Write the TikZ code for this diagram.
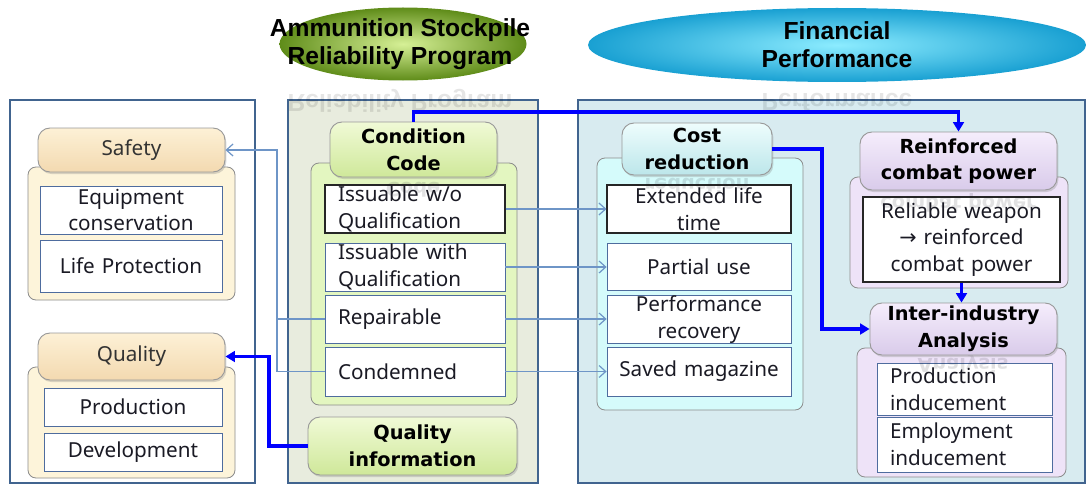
\documentclass[tikz,border=0pt]{standalone}
\usepackage{fontspec}
\setmainfont{Noto Sans}
\newfontfamily\titlefont{Liberation Sans}
\newfontfamily\headfont{DejaVu Sans}
\usetikzlibrary{arrows.meta,shadows,shapes.geometric}

\definecolor{frameblue}{HTML}{41648F}
\definecolor{thinblue}{HTML}{6E95C7}
\definecolor{boxedge}{HTML}{4E6C9E}
\definecolor{arrowblue}{HTML}{0000FF}
\definecolor{midbg}{HTML}{E8ECDE}
\definecolor{rightbg}{HTML}{D8EBF0}
\definecolor{creamtop}{HTML}{FDF1D6}
\definecolor{creambot}{HTML}{F3D9B0}
\definecolor{creambody}{HTML}{FDF4DA}
\definecolor{greentop}{HTML}{F0FAD6}
\definecolor{greenbot}{HTML}{CFE89A}
\definecolor{greenbody}{HTML}{E3F6C0}
\definecolor{cyantop}{HTML}{EEFDFD}
\definecolor{cyanbot}{HTML}{BCE6EA}
\definecolor{cyanbody}{HTML}{D5FBFB}
\definecolor{lavtop}{HTML}{F5EDFC}
\definecolor{lavbot}{HTML}{D9CBEA}
\definecolor{lavbody}{HTML}{EEE3F8}
\definecolor{txt}{HTML}{1A1A24}

\newcommand{\pbox}[8]{%
  \pgfmathsetmacro{\pbw}{(#6-#4-2*#2)*0.75}%
  \pgfmathsetmacro{\pbh}{(#7-#5)*0.75}%
  \pgfmathsetmacro{\pbp}{#2*0.75}%
  \node[#3, text width=\pbw pt, inner xsep=\pbp pt, inner ysep=0pt,
        minimum height=\pbh pt] (#1) at ({(#4+#6)/2},{(#5+#7)/2}) {#8};}

\begin{document}
\begin{tikzpicture}[x=0.75pt,y=-0.75pt,
  every node/.style={font=\fontsize{15.5}{20}\selectfont, text=txt},
  frame/.style={draw=frameblue, line width=2.2pt},
  body/.style={draw=black!45, line width=0.6pt, rounded corners=6pt},
  head/.style={draw=black!40, line width=0.7pt, rounded corners=9pt, align=center,
     drop shadow={shadow xshift=1pt, shadow yshift=-1.5pt, opacity=0.3}},
  boldhead/.style={head, font=\headfont\bfseries\fontsize{14.5}{20}\selectfont, text=black},
  inbox/.style={draw=boxedge, line width=0.6pt, fill=white, align=center},
  inboxl/.style={inbox, align=left},
  inboxk/.style={draw=black!85, line width=0.8pt, fill=white},
  thinarrow/.style={draw=thinblue, line width=0.9pt, -{Straight Barb[length=5pt,width=9pt,line width=0.9pt]}},
  thinline/.style={draw=thinblue, line width=0.9pt},
  thickarrow/.style={draw=arrowblue, line width=2.4pt, -{Triangle[length=7pt,width=8pt]}},
  title/.style={font=\titlefont\bfseries\fontsize{18.5}{21}\selectfont, text=black, align=center},
  refl/.style={yscale=-1, opacity=0.13, align=center, font=\headfont\bfseries\fontsize{14.5}{20}\selectfont}
]
\useasboundingbox (0,0) rectangle (1087,485);

% ---------- title ellipses ----------
\node[ellipse, minimum width=185.25pt, minimum height=54.75pt, inner sep=0pt,
      shading=radial, inner color={rgb,255:red,214;green,240;blue,150},
      outer color={rgb,255:red,95;green,140;blue,25}] (asrpell) at (403,44) {};
\node[ellipse, minimum width=373.5pt, minimum height=55.5pt, inner sep=0pt,
      shading=radial, inner color={rgb,255:red,140;green,236;blue,255},
      outer color={rgb,255:red,25;green,160;blue,210}] (finell) at (837,45) {};
\node[title] (asrp) at (400,44) {Ammunition Stockpile\\Reliability Program};
\node[title] (fin) at (837,45) {Financial\\Performance};

% ---------- outer frames ----------
\draw[frame, fill=white] (10,100) rectangle (255,483);
\draw[frame, fill=midbg] (288,100) rectangle (538,483);
\draw[frame, fill=rightbg] (578,100) rectangle (1085,483);

% faint reflections of the titles
\node[refl, title, opacity=0.1] (asrprefl) at (400,101) {Reliability Program};
\node[refl, title, opacity=0.1] (finrefl) at (837,102) {Performance};

% ---------- left column ----------
\pbox{safetybody}{5}{body, fill=creambody}{28}{167}{235}{300}{}
\pbox{equip}{5}{inbox}{40}{186}{222}{234}{Equipment\\conservation}
\pbox{life}{5}{inbox}{40}{240}{222}{292}{Life Protection}
\pbox{safety}{5}{head, top color=creamtop, bottom color=creambot, text=black!80}{38}{128}{225}{172}{Safety}

\pbox{qualitybody}{5}{body, fill=creambody}{28}{367}{235}{478}{}
\pbox{prod}{5}{inbox}{44}{388}{222}{426}{Production}
\pbox{dev}{5}{inbox}{44}{433}{222}{471}{Development}
\pbox{quality}{5}{head, top color=creamtop, bottom color=creambot, text=black!80}{38}{333}{225}{380}{Quality}

% ---------- middle column ----------
\pbox{condbody}{5}{body, fill=greenbody}{311}{163}{517}{405}{}
\pbox{iwo}{13}{inboxk, align=left}{325}{185}{505}{233}{Issuable w/o\\Qualification}
\pbox{iwith}{13}{inboxl}{325}{243}{505}{291}{Issuable with\\Qualification}
\pbox{rep}{13}{inboxl}{325}{295}{505}{343}{Repairable}
\pbox{cond}{13}{inboxl}{325}{347}{505}{396}{Condemned}
\node[refl] (ccrefl) at (413,190) {Code};
\pbox{ccode}{5}{boldhead, top color=greentop, bottom color=greenbot}{330}{122}{497}{177}{Condition\\Code}
\pbox{qinfo}{5}{boldhead, top color=greentop, bottom color=greenbot}{308}{417}{517}{475}{Quality\\information}

% ---------- right column ----------
\pbox{costbody}{5}{body, fill=cyanbody}{597}{158}{803}{410}{}
\pbox{ext}{5}{inboxk, align=center}{607}{185}{791}{233}{Extended life\\time}
\pbox{partial}{5}{inbox}{607}{243}{791}{290}{Partial use}
\pbox{perf}{5}{inbox}{607}{296}{791}{343}{Performance\\recovery}
\pbox{saved}{5}{inbox}{607}{347}{791}{396}{Saved magazine}
\node[refl] (costrefl) at (697,186) {reduction};
\pbox{cost}{5}{boldhead, top color=cyantop, bottom color=cyanbot}{622}{123}{772}{175}{Cost\\reduction}

\pbox{reinfbody}{5}{body, fill=lavbody}{850}{177}{1068}{288}{}
\pbox{relw}{5}{inboxk, align=center}{863}{197}{1060}{282}{Reliable weapon\\{\fontspec{DejaVu Sans}→} reinforced\\combat power}
\node[refl] (reinfrefl) at (958,203) {combat power};
\pbox{reinf}{5}{boldhead, top color=lavtop, bottom color=lavbot}{860}{132}{1057}{190}{Reinforced\\combat power}

\pbox{interbody}{5}{body, fill=lavbody}{857}{348}{1066}{477}{}
\pbox{prodind}{13}{inboxl}{877}{363}{1052}{415}{Production\\inducement}
\pbox{empind}{13}{inboxl}{877}{417}{1052}{472}{Employment\\inducement}
\node[refl] (interrefl) at (963,364) {Analysis};
\pbox{inter}{5}{boldhead, top color=lavtop, bottom color=lavbot}{870}{303}{1057}{355}{Inter-industry\\Analysis}

% ---------- connectors ----------
\coordinate (busl) at (277,0);
\coordinate (busq) at (269,0);
\coordinate (bustop) at (0,112);
\coordinate (busc) at (822,0);

\draw[thinarrow] (iwo.east) -- (ext.west);
\draw[thinarrow] (iwith.east) -- (iwith.east -| partial.west);
\draw[thinarrow] (rep.east) -- (rep.east -| perf.west);
\draw[thinarrow] (cond.east) -- (cond.east -| saved.west);

\draw[thinline] (rep.west) -- (rep.west -| busl);
\draw[thinarrow] (cond.west) -- (cond.west -| busl) |- (safety.east);

\draw[thickarrow] (qinfo.west) -- (qinfo.west -| busq) |- (quality.east);
\draw[thickarrow] (ccode.north) -- (ccode.north |- bustop) -| (reinf.north);
\draw[thickarrow] (cost.east) -- (cost.east -| busc) |- (inter.west);
\draw[thickarrow] (relw.south) -- (relw.south |- inter.north);
\end{tikzpicture}
\end{document}
